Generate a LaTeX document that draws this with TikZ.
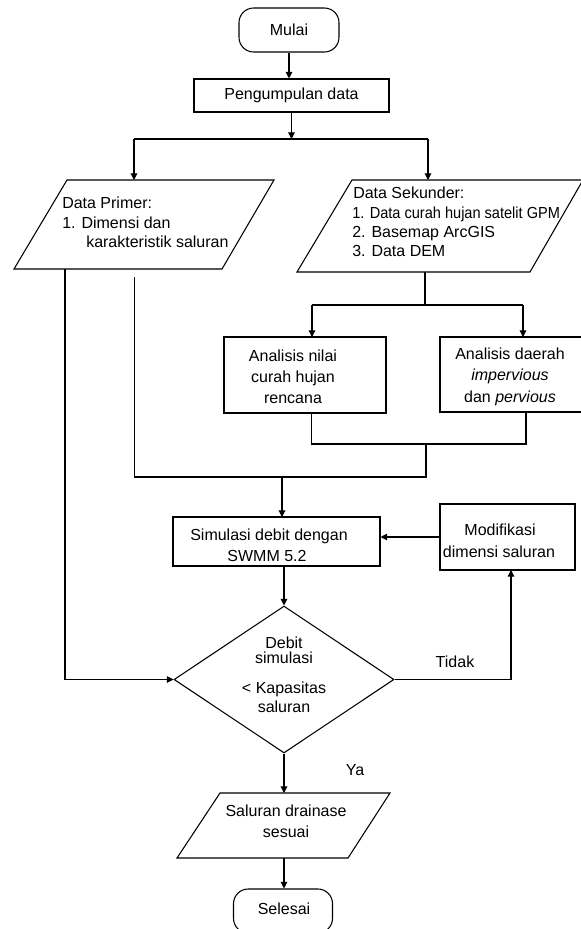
\documentclass[tikz,border=0pt]{standalone}
\usepackage{fontspec}
\setmainfont{Liberation Sans}
\usetikzlibrary{arrows.meta,shapes.geometric}
\begin{document}
\begin{tikzpicture}[x=0.75pt,y=-0.75pt,
  every node/.style={font=\fontsize{12pt}{15pt}\selectfont, inner sep=0pt, text=black},
  line/.style={line width=0.8pt, draw=black},
  arr/.style={line, -{Triangle[length=5pt,width=5pt]}},
  boxnode/.style={draw=black, line width=0.8pt, rectangle},
  termnode/.style={draw=black, line width=0.8pt, rectangle, rounded corners=11pt},
  lbl/.style={anchor=base},
  lblw/.style={anchor=base west}]
\clip (0,0) rectangle (581,929);
\fill[white] (0,0) rectangle (581,929);

% ---- terminals and boxes ----
\node[termnode, minimum width=75pt, minimum height=33pt] (mulai) at (289,30) {Mulai};
\node[boxnode, minimum width=146.25pt, minimum height=24.75pt] (peng) at (291.5,95.5) {Pengumpulan data};

% Data Primer parallelogram
\draw[line] (67,180) -- (274,180) -- (222,269) -- (14,269) -- cycle;
\node[lblw] (p1) at (62,208.5) {Data Primer:};
\node[lblw] (p2) at (62,228.5) {1. Dimensi dan};
\node[lblw] (p3) at (86,247) {karakteristik saluran};

% Data Sekunder parallelogram
\draw[line] (352,180) -- (583,180) -- (530,272) -- (297,272) -- cycle;
\node[lblw] (s1) at (353,198.5) {Data Sekunder:};
\node[lblw] (s2) at (352,218.5) {\scalebox{0.91}[1]{1. Data curah hujan satelit GPM}};
\node[lblw] (s3) at (352,237.5) {2. Basemap ArcGIS};
\node[lblw] (s4) at (352,256) {3. Data DEM};

% Analisis boxes
\node[boxnode, minimum width=121.5pt, minimum height=57pt] (nilai) at (305,375) {};
\node[lbl] (n1) at (293,361.5) {Analisis nilai};
\node[lbl] (n2) at (293,382.5) {curah hujan};
\node[lbl] (n3) at (293,403) {rencana};

\node[boxnode, minimum width=112.5pt, minimum height=56.25pt] (daerah) at (515,374.5) {};
\node[lbl] (d1) at (510,359.5) {Analisis daerah};
\node[lbl] (d2) at (510,380.5) {\textit{impervious}};
\node[lbl] (d3) at (510,402.5) {dan \textit{pervious}};

% Simulasi
\node[boxnode, minimum width=155.25pt, minimum height=36.75pt] (sim) at (276.5,541.5) {};
\node[lbl] (m1) at (269,540.5) {Simulasi debit dengan};
\node[lbl] (m2) at (267,561.5) {SWMM 5.2};

% Modifikasi
\node[boxnode, minimum width=101.25pt, minimum height=49.5pt] (mod) at (507.5,537) {};
\node[lbl] (o1) at (500,535.5) {Modifikasi};
\node[lbl] (o2) at (499,557.5) {dimensi saluran};

% Decision
\node[draw=black, line width=0.8pt, diamond, minimum width=165pt, minimum height=110.25pt] (dia) at (284,679.5) {};
\node[lbl] (q1) at (284,648.5) {Debit};
\node[lbl] (q2) at (284,663.5) {simulasi};
\node[lbl] (q3) at (284,693.5) {< Kapasitas};
\node[lbl] (q4) at (284,712.5) {saluran};

% Output parallelogram
\draw[line] (220,793) -- (390,793) -- (348,858) -- (177,858) -- cycle;
\node[lbl] (r1) at (286,816.5) {Saluran drainase};
\node[lbl] (r2) at (286,837.5) {sesuai};

\node[termnode, minimum width=74.25pt, minimum height=33pt] (selesai) at (283,911) {};
\node[lbl] (e1) at (284,914.5) {Selesai};

% labels
\node[lbl] (tidak) at (455,667.5) {Tidak};
\node[lbl] (ya) at (355,775.5) {Ya};

% ---- coordinates ----
\coordinate (j1) at (291.5,139);
\coordinate (primIn) at (134,180);
\coordinate (sekIn) at (428,180);
\coordinate (primOut1) at (65,269);
\coordinate (primOut2) at (134.5,277);
\coordinate (sekOut) at (425,272);
\coordinate (j2) at (425,305);
\coordinate (nilaiIn) at (312,337);
\coordinate (daerahIn) at (523,337);
\coordinate (nilaiOut) at (311.5,412.5);
\coordinate (daerahOut) at (526,412);
\coordinate (j3) at (426,444);
\coordinate (j4) at (426,477);
\coordinate (simIn) at (282,517);
\coordinate (simOut) at (284,566);
\coordinate (modIn) at (511,570);
\coordinate (salIn) at (284,793);
\coordinate (salOut) at (284,858);

% ---- connectors ----
\draw[arr] (mulai.south) -- (mulai.south |- peng.north);
\draw[arr] (peng.south) -- (j1);
\draw[line] (primIn |- j1) -- (sekIn |- j1);
\draw[arr] (primIn |- j1) -- (primIn);
\draw[arr] (sekIn |- j1) -- (sekIn);

\draw[line] (sekOut) -- (j2);
\draw[line] (nilaiIn |- j2) -- (daerahIn |- j2);
\draw[arr] (nilaiIn |- j2) -- (nilaiIn);
\draw[arr] (daerahIn |- j2) -- (daerahIn);

\draw[line] (nilaiOut) -- (nilaiOut |- j3) -- (daerahOut |- j3) -- (daerahOut);
\draw[line] (j3) -- (j4) -- (primOut2 |- j4) -- (primOut2);
\draw[arr] (simIn |- j4) -- (simIn);

\draw[arr] (mod.west) -- (sim.east |- mod.west);
\draw[arr] (simOut) -- (dia.north);
\draw[arr] (dia.east) -| (modIn);
\draw[arr] (primOut1) -- (primOut1 |- dia.west) -- (dia.west);
\draw[arr] (dia.south) -- (salIn);
\draw[arr] (salOut) -- (salOut |- selesai.north);
\end{tikzpicture}
\end{document}
